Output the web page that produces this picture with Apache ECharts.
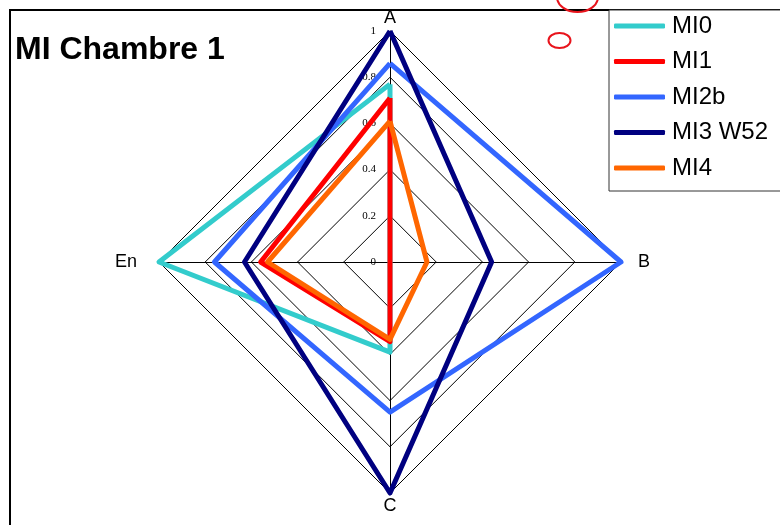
<!DOCTYPE html>
<html>
<head>
<meta charset="utf-8">
<script src="https://cdn.jsdelivr.net/npm/echarts@6/dist/echarts.min.js"></script>
<style>
html,body{margin:0;padding:0;background:#fff;}
#chart{width:780px;height:525px;}
</style>
</head>
<body>
<div id="chart"></div>
<script>
// Data
const categories = ['A', 'B', 'C', 'En'];
const seriesNames = ['MI0', 'MI1', 'MI2b', 'MI3 W52', 'MI4'];
const MI0 = [0.77, 0, 0.39, 1.0];
const MI1 = [0.71, 0, 0.345, 0.56];
const MI2b = [0.86, 1.0, 0.65, 0.76];
const MI3_W52 = [1.0, 0.44, 1.0, 0.63];
const MI4 = [0.61, 0.16, 0.335, 0.53];
const tickValues = [0, 0.2, 0.4, 0.6, 0.8, 1];

const colors = ['#33CCCC', '#FF0000', '#3366FF', '#000080', '#FF6600'];
const values = [MI0, MI1, MI2b, MI3_W52, MI4];

// ECharts radar places indicators counter-clockwise; the reference goes clockwise (A top, B right, C bottom, En left)
const order = [0, 3, 2, 1];

const chart = echarts.init(document.getElementById('chart'));

const indicator = order.map((k, i) => {
  const o = { name: categories[k], min: tickValues[0], max: tickValues[tickValues.length - 1] };
  if (i === 0) {
    o.axisLabel = {
      show: true,
      fontFamily: 'Liberation Serif',
      fontSize: 11,
      color: '#000',
      margin: 14,
      formatter: v => String(+(+v).toFixed(1))
    };
  }
  return o;
});

chart.setOption({
  animation: false,
  title: {
    text: 'MI Chambre 1',
    left: 15,
    top: 34,
    padding: 0,
    textStyle: { fontFamily: 'Liberation Sans', fontWeight: 'bold', fontSize: 32, color: '#000' }
  },
  legend: {
    orient: 'vertical',
    left: 609,
    top: 10,
    padding: [4, 30, 11, 5],
    itemGap: 11.5,
    itemWidth: 51,
    itemHeight: 5,
    icon: 'roundRect',
    borderColor: '#333',
    borderWidth: 1,
    backgroundColor: '#fff',
    data: seriesNames,
    textStyle: { fontFamily: 'Liberation Sans', fontSize: 24, color: '#000', lineHeight: 24, padding: [0, 0, 0, 2] }
  },
  radar: {
    center: [390, 262],
    radius: 231,
    shape: 'polygon',
    splitNumber: tickValues.length - 1,
    startAngle: 90,
    indicator: indicator,
    axisName: {
      color: '#000', fontFamily: 'Liberation Sans', fontSize: 18,
      formatter: function (name) {
        if (name === 'En') return '{l|' + name + '}';
        if (name === 'B') return '{r|' + name + '}';
        return '{c|' + name + '}';
      },
      rich: {
        l: { fontFamily: 'Liberation Sans', fontSize: 18, color: '#000', padding: [0, 18, 0, 0] },
        r: { fontFamily: 'Liberation Sans', fontSize: 18, color: '#000', padding: [0, 0, 0, 13] },
        c: { fontFamily: 'Liberation Sans', fontSize: 18, color: '#000' }
      }
    },
    nameGap: 4,
    axisLine: { lineStyle: { color: '#000', width: 1 } },
    splitLine: { lineStyle: { color: '#000', width: 1 } },
    splitArea: { show: false },
    axisTick: { show: false },
    axisLabel: { show: false }
  },
  graphic: [
    { type: 'rect', shape: { x: 10, y: 10, width: 900, height: 700 }, style: { fill: 'none', stroke: '#000', lineWidth: 2 }, silent: true, z: -1 },
    { type: 'ellipse', shape: { cx: 559.5, cy: 40.5, rx: 11, ry: 7.5 }, style: { fill: 'none', stroke: '#E8141C', lineWidth: 2 }, silent: true },
    { type: 'ellipse', shape: { cx: 577.5, cy: -3, rx: 20.5, ry: 15 }, style: { fill: 'none', stroke: '#E8141C', lineWidth: 2 }, silent: true }
  ],
  series: [{
    type: 'radar',
    symbol: 'none',
    data: values.map((v, i) => ({
      name: seriesNames[i],
      value: order.map(k => v[k]),
      lineStyle: { color: colors[i], width: 5 },
      itemStyle: { color: colors[i] }
    }))
  }]
});
</script>
</body>
</html>
